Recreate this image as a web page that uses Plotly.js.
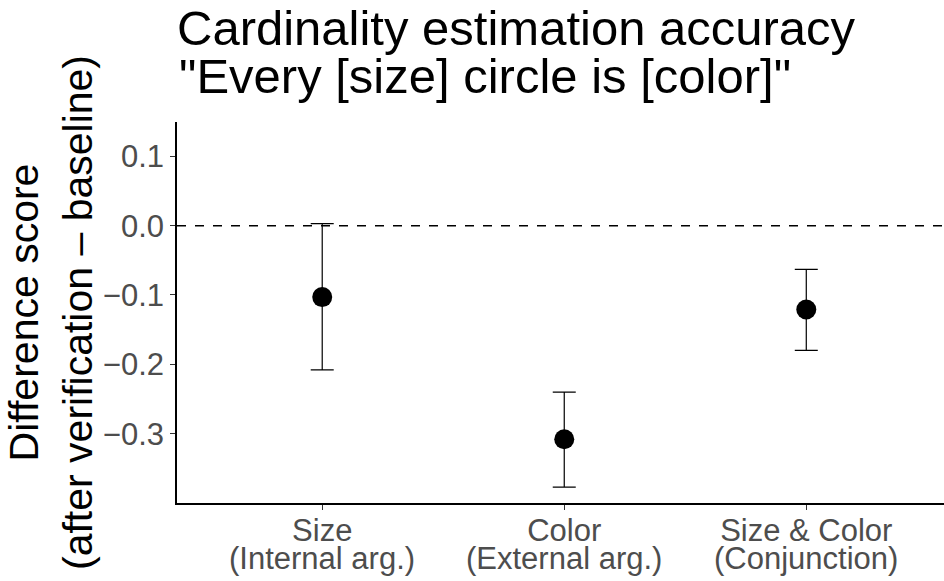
<!DOCTYPE html>
<html>
<head>
<meta charset="utf-8">
<script src="https://cdn.plot.ly/plotly-3.0.1.min.js"></script>
<style>html,body{margin:0;padding:0;background:#fff;overflow:hidden}</style>
</head>
<body>
<div id="chart" style="width:944px;height:581px"></div>
<script>
const categories = ["Size", "Color", "Size & Color"];
const subLabels = ["(Internal arg.)", "(External arg.)", "(Conjunction)"];
const means = [-0.103, -0.308, -0.121];
const upper = [0.003, -0.240, -0.063];
const lower = [-0.208, -0.377, -0.180];
const referenceY = 0;
const yTicks = [0.1, 0.0, -0.1, -0.2, -0.3];
const titleLine1 = "Cardinality estimation accuracy";
const titleLine2 = '"Every [size] circle is [color]"';

const xIdx = categories.map((c, i) => i);
const font = "Liberation Sans, Arial, sans-serif";

const trace = {
  type: "scatter",
  mode: "markers",
  x: xIdx,
  y: means,
  marker: {color: "#000000", size: 20, line: {width: 0}},
  error_y: {
    type: "data",
    symmetric: false,
    array: upper.map((u, i) => u - means[i]),
    arrayminus: means.map((m, i) => m - lower[i]),
    color: "#000000",
    thickness: 1.2,
    width: 11.5
  },
  hoverinfo: "x+y",
  showlegend: false
};

const annotations = subLabels.map((t, i) => ({
  text: t, x: xIdx[i], xref: "x", y: 0, yref: "paper",
  xanchor: "center", yanchor: "top", yshift: -36, showarrow: false,
  font: {family: font, size: 31, color: "#4D4D4D"}
}));
annotations.push({
  text: titleLine2, xref: "paper", x: 0, xanchor: "left",
  yref: "paper", y: 1, yanchor: "bottom", yshift: 17, showarrow: false,
  font: {family: font, size: 49, color: "#000000"}
});

const layout = {
  width: 944, height: 581,
  margin: {l: 177, r: 0, t: 122, b: 78},
  paper_bgcolor: "#ffffff", plot_bgcolor: "#ffffff",
  font: {family: font},
  title: {
    text: titleLine1,
    font: {family: font, size: 49, color: "#000000"},
    xref: "paper", x: 0, xanchor: "left",
    yref: "container", y: 1, yanchor: "top", pad: {t: 11, l: 0}
  },
  xaxis: {
    range: [-0.6, 2.569],
    tickvals: xIdx, ticktext: categories,
    showgrid: false, zeroline: false,
    showline: true, linecolor: "#000000", linewidth: 1.6,
    ticks: "outside", ticklen: 5, tickcolor: "#333333", tickwidth: 1.1,
    ticklabelstandoff: -6,
    tickfont: {family: font, size: 31, color: "#4D4D4D"}
  },
  yaxis: {
    range: [-0.400, 0.1495],
    tickvals: yTicks, tickformat: ".1f",
    showgrid: false, zeroline: false,
    showline: true, linecolor: "#000000", linewidth: 1.6,
    ticks: "outside", ticklen: 5, tickcolor: "#333333", tickwidth: 1.1,
    tickfont: {family: font, size: 31, color: "#4D4D4D"},
    title: {
      text: "Difference score<br>(after verification \u2013 baseline)",
      font: {family: font, size: 41, color: "#000000"}
    }
  },
  shapes: [{
    type: "line", xref: "paper", x0: 0, x1: 1, yref: "y", y0: referenceY, y1: referenceY,
    line: {color: "#000000", width: 1.5, dash: "9px,9px"}, layer: "below"
  }],
  annotations: annotations
};

Plotly.newPlot("chart", [trace], layout, {displayModeBar: false, responsive: false});
</script>
</body>
</html>
